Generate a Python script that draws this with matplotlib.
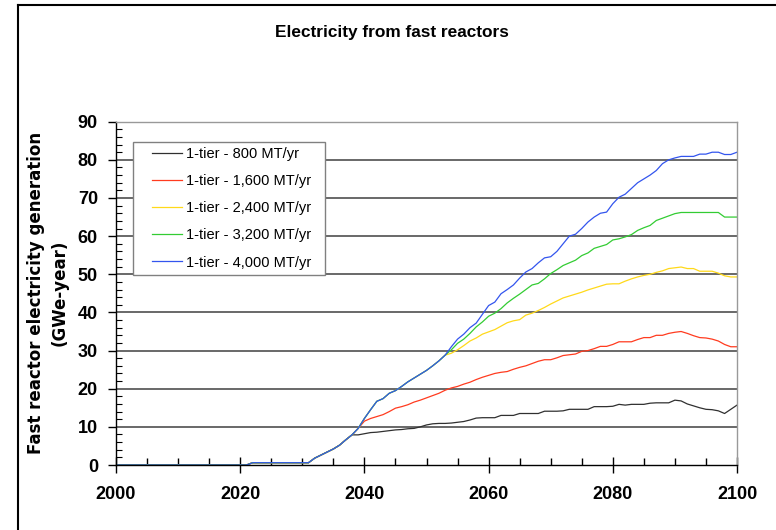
import matplotlib
matplotlib.use("Agg")
import matplotlib.pyplot as plt
from matplotlib.lines import Line2D
from matplotlib.patches import Rectangle
from matplotlib.ticker import MultipleLocator

plt.rcParams['font.family'] = ['Liberation Sans', 'DejaVu Sans']

years = list(range(2000, 2101))

# shared values 2000-2037
early = [0, 0, 0, 0, 0, 0, 0, 0, 0, 0,
         0, 0, 0, 0, 0, 0, 0, 0, 0, 0,
         0, 0, 0.6, 0.6, 0.6, 0.6, 0.6, 0.6, 0.6, 0.6,
         0.6, 0.6, 1.8, 2.6, 3.4, 4.2, 5.2, 6.6]

# 2038-2100
tail_800 = [7.9, 7.9, 8.2, 8.5, 8.6, 8.8, 9.0, 9.2, 9.3, 9.5,
            9.6, 10.0, 10.5, 10.8, 10.9, 10.9, 11.0, 11.2, 11.4, 11.8,
            12.3, 12.4, 12.4, 12.4, 13.0, 13.0, 13.0, 13.5, 13.5, 13.5,
            13.5, 14.1, 14.1, 14.1, 14.2, 14.6, 14.6, 14.6, 14.6, 15.3,
            15.3, 15.3, 15.4, 15.9, 15.7, 15.9, 15.9, 15.9, 16.2, 16.3,
            16.3, 16.3, 17.0, 16.8, 16.0, 15.5, 15.0, 14.6, 14.5, 14.2,
            13.5, 14.6, 15.7]
tail_1600 = [7.9, 9.6, 11.5, 12.2, 12.7, 13.2, 14.0, 14.9, 15.3, 15.8,
             16.5, 17.0, 17.6, 18.2, 18.8, 19.6, 20.2, 20.6, 21.2, 21.7,
             22.4, 23.0, 23.5, 24.0, 24.3, 24.5, 25.1, 25.6, 26.0, 26.6,
             27.2, 27.6, 27.6, 28.1, 28.7, 28.9, 29.1, 29.8, 30.0, 30.5,
             31.1, 31.1, 31.6, 32.3, 32.3, 32.3, 32.9, 33.4, 33.4, 34.0,
             34.0, 34.5, 34.8, 35.0, 34.5, 33.9, 33.4, 33.3, 33.0, 32.5,
             31.6, 31.0, 31.0]
tail_2400 = [7.9, 9.6, 12.2, 14.5, 16.7, 17.4, 18.8, 19.5, 20.6, 21.8,
             22.8, 23.8, 24.8, 26.0, 27.3, 28.8, 29.3, 30.2, 31.3, 32.5,
             33.3, 34.3, 34.9, 35.5, 36.4, 37.3, 37.8, 38.1, 39.3, 39.8,
             40.5, 41.3, 42.2, 43.0, 43.8, 44.3, 44.8, 45.3, 45.9, 46.4,
             46.9, 47.4, 47.5, 47.5, 48.2, 48.8, 49.3, 49.7, 50.0, 50.5,
             50.9, 51.5, 51.7, 51.9, 51.5, 51.5, 50.8, 50.8, 50.8, 50.3,
             49.6, 49.3, 49.3]
tail_3200 = [7.9, 9.6, 12.2, 14.5, 16.7, 17.4, 18.8, 19.5, 20.6, 21.8,
             22.8, 23.8, 24.8, 26.0, 27.3, 28.8, 30.2, 31.9, 33.0, 34.5,
             36.2, 37.5, 39.0, 39.8, 41.0, 42.5, 43.7, 44.8, 46.0, 47.2,
             47.6, 48.8, 50.2, 51.2, 52.3, 53.0, 53.7, 54.9, 55.6, 56.8,
             57.3, 57.8, 59.0, 59.3, 59.8, 60.4, 61.5, 62.2, 62.8, 64.1,
             64.7, 65.3, 65.9, 66.2, 66.2, 66.2, 66.2, 66.2, 66.2, 66.2,
             65.0, 65.0, 65.0]
tail_4000 = [7.9, 9.6, 12.2, 14.5, 16.7, 17.4, 18.8, 19.5, 20.6, 21.8,
             22.8, 23.8, 24.8, 26.0, 27.3, 28.8, 31.0, 33.0, 34.3, 36.0,
             37.2, 39.5, 41.8, 42.7, 44.9, 46.0, 47.2, 49.0, 50.6, 51.5,
             53.0, 54.3, 54.6, 56.0, 58.0, 60.0, 60.5, 62.0, 63.7, 65.0,
             66.0, 66.3, 68.5, 70.2, 71.0, 72.5, 74.0, 75.0, 76.0, 77.2,
             79.0, 80.0, 80.5, 80.9, 80.9, 80.9, 81.5, 81.5, 82.0, 82.0,
             81.4, 81.4, 82.0]

labels = ["1-tier - 800 MT/yr", "1-tier - 1,600 MT/yr", "1-tier - 2,400 MT/yr",
          "1-tier - 3,200 MT/yr", "1-tier - 4,000 MT/yr"]
colors = ["#303030", "#FF3B1F", "#FFD91A", "#33CC33", "#3355EE"]
series = [early + tail_800, early + tail_1600, early + tail_2400,
          early + tail_3200, early + tail_4000]

W, H = 776, 530
fig = plt.figure(figsize=(W / 100, H / 100), dpi=100)
L, R, B, T = 116, 737, 465, 121.7
ax = fig.add_axes([L / W, 1 - B / H, (R - L) / W, (B - T) / H])

for vals, c, lab in zip(series, colors, labels):
    ax.plot(years, vals, color=c, lw=0.9, label=lab)

ax.set_xlim(2000, 2100)
ax.set_ylim(0, 90)
ax.xaxis.set_major_locator(MultipleLocator(20))
ax.xaxis.set_minor_locator(MultipleLocator(5))
ax.yaxis.set_major_locator(MultipleLocator(10))
ax.yaxis.set_minor_locator(MultipleLocator(2))
for y in range(10, 90, 10):
    ax.axhline(y, color="#404040", lw=1.1, zorder=0)

ax.tick_params(axis='x', which='major', direction='inout', length=12, width=1,
               labelsize=13, pad=9)
ax.tick_params(axis='x', which='minor', direction='in', length=5, width=1)
ax.tick_params(axis='y', which='major', direction='out', length=6, width=1,
               labelsize=13, pad=7)
ax.tick_params(axis='y', which='minor', direction='in', length=4, width=0.8)
for lab in ax.get_xticklabels() + ax.get_yticklabels():
    lab.set_fontweight('bold')

ax.spines['left'].set_color('black')
ax.spines['bottom'].set_color('black')
ax.spines['top'].set_color('#999999')
ax.spines['right'].set_color('#999999')
for s in ax.spines.values():
    s.set_linewidth(1)

def ax_x(px):
    return (px - L) / (R - L)

def ax_y(py):
    return (B - py) / (B - T)

# legend box drawn separately, entries placed inside it
box = Rectangle((ax_x(133), ax_y(275)), ax_x(325) - ax_x(133), ax_y(142) - ax_y(275),
                transform=ax.transAxes, facecolor='white', edgecolor='#808080',
                lw=1, zorder=4)
ax.add_patch(box)
leg = ax.legend(loc='upper left', bbox_to_anchor=(ax_x(152), ax_y(147)),
                borderaxespad=0, borderpad=0, fontsize=10.5, frameon=False,
                handlelength=2.05, handletextpad=0.3, labelspacing=0.9)
leg.set_zorder(5)

fig.text(392 / W, 1 - 32 / H, "Electricity from fast reactors", ha='center',
         va='center', fontsize=12.4, fontweight='bold')
fig.text(48 / W, 1 - 293 / H, "Fast reactor electricity generation\n(GWe-year)",
         ha='center', va='center', rotation=90, fontsize=12, fontweight='bold',
         family='DejaVu Sans', linespacing=1.4)

# outer frame
fig.add_artist(Line2D([18 / W, 18 / W], [0, 1 - 5 / H], color='black', lw=1.5,
                      transform=fig.transFigure))
fig.add_artist(Line2D([18 / W, 1], [1 - 5 / H, 1 - 5 / H], color='black', lw=1.5,
                      transform=fig.transFigure))

fig.savefig("out.png", dpi=100)
